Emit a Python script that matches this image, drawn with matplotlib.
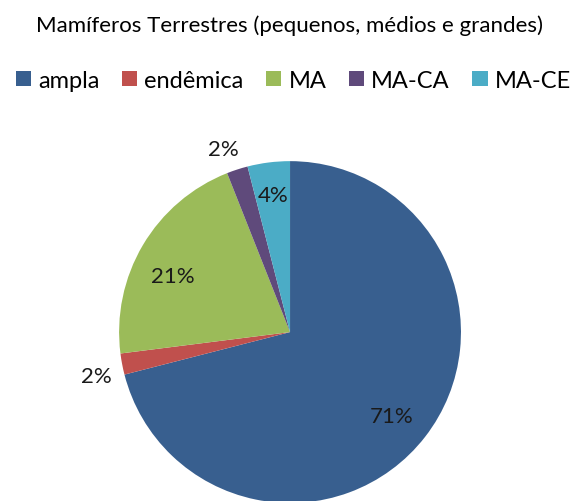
import numpy as np
import matplotlib
matplotlib.use("Agg")
import matplotlib.pyplot as plt
from matplotlib.patches import Patch

plt.rcParams['font.family'] = ['Lato', 'DejaVu Sans']

title = "Mamíferos Terrestres (pequenos, médios e grandes)"
categories = ["ampla", "endêmica", "MA", "MA-CA", "MA-CE"]
values = [71, 2, 21, 2, 4]
colors = ["#385F8F", "#C0504D", "#9BBB59", "#5F4A7B", "#4BACC6"]
# label distance (in radii) and small angular nudge for each slice label
label_r = [0.77, 1.16, 0.76, 1.14, 0.81]
label_shift = [-2, 2, 5, 2, 0]

fig = plt.figure(figsize=(5.81, 5.02), dpi=100)
ax = fig.add_axes([0.2049, -0.004, 0.5886, 0.681])

wedges, _ = ax.pie(values, colors=colors, startangle=90, counterclock=False,
                   radius=1, wedgeprops=dict(linewidth=0))
ax.set_xlim(-1, 1)
ax.set_ylim(-1, 1)
ax.set_aspect("equal")
ax.axis("off")

total = sum(values)
for w, v, r, s in zip(wedges, values, label_r, label_shift):
    mid = np.deg2rad((w.theta1 + w.theta2) / 2 + s)
    ax.text(r * np.cos(mid), r * np.sin(mid), f"{round(100 * v / total)}%",
            ha="center", va="center", fontsize=16, color="#1a1a1a", clip_on=False)

fig.text(0.499, 0.948, title, ha="center", va="center", fontsize=16, color="black")

handles = [Patch(facecolor=c, edgecolor="none") for c in colors]
fig.legend(handles, categories, loc="center", bbox_to_anchor=(0.505, 0.838), ncol=5,
           frameon=False, fontsize=17, handlelength=0.65, handleheight=0.65,
           handletextpad=0.3, columnspacing=0.95, borderpad=0, borderaxespad=0)

fig.savefig("out.png", dpi=100)
